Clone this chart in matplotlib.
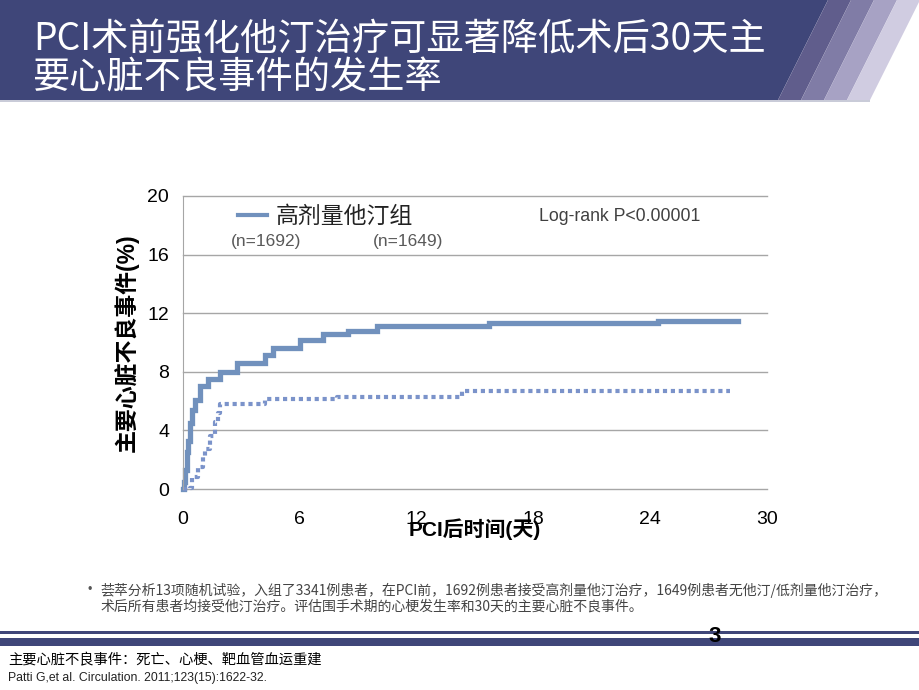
import matplotlib
matplotlib.use("Agg")
import matplotlib.pyplot as plt
from matplotlib.patches import Polygon, Rectangle

plt.rcParams['font.family'] = ['Liberation Sans', 'Noto Sans CJK SC', 'DejaVu Sans']

# ---------------- data ----------------
high_dose_days = [0, 0.05, 0.12, 0.2, 0.28, 0.38, 0.45, 0.6, 0.87, 1.3, 1.9, 2.76,
                  4.21, 4.64, 6.0, 7.2, 8.5, 9.95, 15.7, 24.4, 28.5]
high_dose_mace = [0, 0.5, 1.3, 2.5, 3.3, 4.5, 5.4, 6.1, 7.0, 7.5, 8.0, 8.6,
                  9.15, 9.6, 10.2, 10.6, 10.8, 11.1, 11.3, 11.5, 11.5]
low_dose_days = [0, 0.36, 0.45, 0.79, 1.04, 1.13, 1.39, 1.64, 1.81, 1.9, 4.21, 7.89, 14.33, 28.1]
low_dose_mace = [0, 0.1, 0.85, 1.5, 2.2, 2.7, 3.6, 4.6, 5.2, 5.8, 6.15, 6.3, 6.7, 6.7]
x_ticks = [0, 6, 12, 18, 24, 30]
y_ticks = [0, 4, 8, 12, 16, 20]
legend_label = "高剂量他汀组"
n_labels = ["(n=1692)", "(n=1649)"]
p_text = "Log-rank P<0.00001"
title_lines = ["PCI术前强化他汀治疗可显著降低术后30天主", "要心脏不良事件的发生率"]
y_label = "主要心脏不良事件(%)"
x_label = "PCI后时间(天)"
note1 = "荟萃分析13项随机试验，入组了3341例患者，在PCI前，1692例患者接受高剂量他汀治疗，1649例患者无他汀/低剂量他汀治疗，"
note2 = "术后所有患者均接受他汀治疗。评估围手术期的心梗发生率和30天的主要心脏不良事件。"
footer1 = "主要心脏不良事件：死亡、心梗、靶血管血运重建"
footer2 = "Patti G,et al. Circulation. 2011;123(15):1622-32."
page_no = "3"

NAVY = "#3F4679"
SOLID_C = "#7191BD"
DOT_C = "#7B93CA"
CJK = ['Noto Sans CJK SC', 'DejaVu Sans']
NARROW = ['Liberation Sans Narrow', 'Liberation Sans']

fig = plt.figure(figsize=(9.2, 6.9), dpi=100)

# ---------------- background decorations (pixel coords) ----------------
bg = fig.add_axes([0, 0, 1, 1], zorder=0)
bg.set_xlim(0, 920)
bg.set_ylim(690, 0)
bg.axis('off')
bg.add_patch(Polygon([(0, 0), (828, 0), (778, 100), (0, 100)], closed=True, color=NAVY, lw=0))
stripe_cols = ["#605D8C", "#807CA6", "#A7A2C4", "#D0CCE1"]
for i, c in enumerate(stripe_cols):
    x0t = 828 + 23 * i
    x0b = 778 + 23 * i
    bg.add_patch(Polygon([(x0t, 0), (x0t + 23, 0), (x0b + 23, 100), (x0b, 100)],
                         closed=True, color=c, lw=0))
bg.add_patch(Rectangle((0, 100), 870, 1.5, color="#C9CBD8", lw=0))
# bottom bars
bg.add_patch(Rectangle((0, 631), 920, 2.5, color=NAVY, lw=0))
bg.add_patch(Rectangle((0, 638), 920, 8, color=NAVY, lw=0))

# title
bg.text(33, 40, title_lines[0], color="white", fontsize=26.8, family=CJK,
        va='center', ha='left')
bg.text(33, 78, title_lines[1], color="white", fontsize=26.8, family=CJK,
        va='center', ha='left')

# notes
bg.text(88, 590, "•", fontsize=9, color="#555555", va='center', ha='left')
bg.text(101, 590, note1, fontsize=10, color="#444444", family=CJK, va='center', ha='left')
bg.text(101, 607, note2, fontsize=10, color="#444444", family=CJK, va='center', ha='left')
bg.text(715, 637, page_no, fontsize=16, fontweight='bold', color="black",
        va='center', ha='center', family=NARROW)
bg.text(8, 660, footer1, fontsize=10.3, color="black", family=CJK, va='center', ha='left')
bg.text(8, 678, footer2, fontsize=8.8, color="#222222", va='center', ha='left',
        family=NARROW)

# ---------------- chart ----------------
ax = fig.add_axes([183 / 920, 1 - 489 / 690, 584 / 920, 293 / 690], zorder=2)
ax.patch.set_alpha(0)
ax.set_xlim(0, 30)
ax.set_ylim(0, 20)
ax.set_xticks(x_ticks)
ax.set_yticks(y_ticks)
ax.grid(axis='y', color="#A6A6A6", lw=1)
for gl in ax.get_ygridlines():
    gl.set_clip_on(False)
ax.set_axisbelow(True)
for s in ['top', 'right', 'bottom']:
    ax.spines[s].set_visible(False)
ax.spines['left'].set_color("#A6A6A6")
ax.tick_params(length=0, labelsize=14, colors="black")
ax.tick_params(axis='x', pad=16)
ax.tick_params(axis='y', pad=10)

line_hi, = ax.plot(high_dose_days, high_dose_mace, drawstyle='steps-post',
                   color=SOLID_C, lw=3.8, solid_joinstyle='miter', clip_on=False)
ax.plot(low_dose_days, low_dose_mace, drawstyle='steps-post', color=DOT_C, lw=3.0,
        linestyle=(0, (1, 0.9)), dash_capstyle='butt', clip_on=False)

leg = ax.legend(handles=[line_hi], labels=[legend_label], loc='center left',
                bbox_to_anchor=(0.095, 0.93), frameon=False, handlelength=1.25,
                handletextpad=0.35, borderpad=0, borderaxespad=0,
                prop={'family': CJK, 'size': 16.5})
for t in leg.get_texts():
    t.set_color("#222222")
leg.get_lines()[0].set_linewidth(3)

ax.text(0.142, 0.844, n_labels[0], transform=ax.transAxes, ha='center', va='center',
        fontsize=12.5, color="#595959")
ax.text(0.385, 0.844, n_labels[1], transform=ax.transAxes, ha='center', va='center',
        fontsize=12.5, color="#595959")
ax.text(0.748, 0.93, p_text, transform=ax.transAxes, ha='center', va='center',
        fontsize=12.7, color="#404040")

ax.set_ylabel(y_label, fontsize=16.5, fontweight='bold', color="black", labelpad=6)
ax.set_xlabel(x_label, fontsize=15, fontweight='bold', color="black", labelpad=-7)

fig.savefig("out.png", dpi=100)
